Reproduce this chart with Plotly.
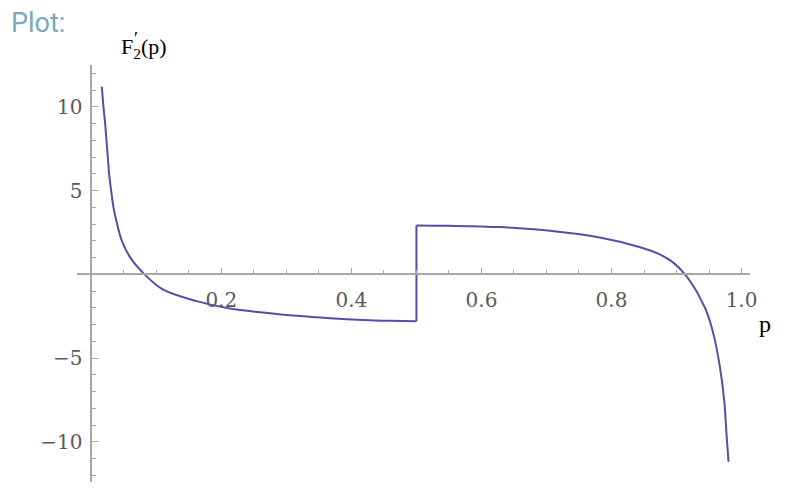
import plotly.graph_objects as go

# ---- data ----
left_p = [0.0162, 0.0187, 0.0213, 0.0233, 0.0254, 0.0274, 0.0305, 0.0341, 0.0397, 0.047,
          0.060, 0.082, 0.11, 0.162, 0.213, 0.264, 0.316, 0.367, 0.418, 0.46, 0.50]
left_y = [11.2, 10.0, 9.0, 8.0, 7.0, 6.0, 5.0, 4.0, 3.0, 2.0,
          1.0, 0.0, -0.9, -1.6, -2.04, -2.28, -2.48, -2.62, -2.72, -2.77, -2.8]
jump_p = [0.50, 0.50]
jump_y = [-2.8, 2.92]
right_p = [0.50, 0.55, 0.628, 0.705, 0.782, 0.844, 0.875, 0.895, 0.913, 0.931,
           0.939, 0.946, 0.957, 0.967, 0.9735, 0.977, 0.98]
right_y = [2.92, 2.9, 2.82, 2.6, 2.2, 1.62, 1.18, 0.70, 0.0, -1.03,
           -1.63, -2.2, -3.6, -5.6, -7.6, -9.6, -11.2]

x_tickvals = [0.2, 0.4, 0.6, 0.8, 1.0]
x_ticktext = ["0.2", "0.4", "0.6", "0.8", "1.0"]
y_tickvals = [-10, -5, 5, 10]
y_ticktext = ["\u221210", "\u22125", "5", "10"]
x_minor = [0.05, 0.1, 0.15, 0.25, 0.3, 0.35, 0.45, 0.5, 0.55, 0.65, 0.7, 0.75, 0.85, 0.9, 0.95]
y_minor = [-12, -11, -9, -8, -7, -6, -4, -3, -2, -1, 1, 2, 3, 4, 6, 7, 8, 9, 11, 12]

XR = [-0.022, 1.013]
YR = [-12.4, 12.5]

W, H = 795, 500
OFF = 8  # page body margin offset
ML, MR, MT, MB = 77 - OFF, 45 + OFF, 65 - OFF, 18 + OFF
PW, PH = W - ML - MR, H - MT - MB


def px(x):
    return (x - OFF - ML) / PW


def py(y):
    return (H - MB - (y - OFF)) / PH


line = dict(color="#5050a8", width=2)
fig = go.Figure()
fig.add_trace(go.Scatter(x=left_p, y=left_y, mode="lines",
                         line=dict(shape="spline", smoothing=1, **line), hoverinfo="skip"))
fig.add_trace(go.Scatter(x=jump_p, y=jump_y, mode="lines", line=line, hoverinfo="skip"))
fig.add_trace(go.Scatter(x=right_p, y=right_y, mode="lines",
                         line=dict(shape="spline", smoothing=1, **line), hoverinfo="skip"))

axcol = "#a6a6a6"
tickfont = dict(family="DejaVu Serif", size=20, color="#5a5a5a")

fig.update_layout(
    width=W, height=H,
    margin=dict(l=ML, r=MR, t=MT, b=MB, autoexpand=False),
    paper_bgcolor="white", plot_bgcolor="white",
    showlegend=False,
    xaxis=dict(range=XR, showgrid=False, zeroline=False, automargin=False,
               showline=True, linecolor=axcol, linewidth=1.5,
               anchor="free", position=(0 - YR[0]) / (YR[1] - YR[0]),
               tickmode="array", tickvals=x_tickvals, ticktext=x_ticktext,
               ticks="inside", ticklen=6, tickwidth=1, tickcolor=axcol,
               tickfont=tickfont, ticklabelstandoff=8,
               minor=dict(tickmode="array", tickvals=x_minor, ticks="inside",
                          ticklen=3.5, tickcolor=axcol, tickwidth=1)),
    yaxis=dict(range=YR, showgrid=False, zeroline=False, automargin=False,
               showline=True, linecolor=axcol, linewidth=1.5,
               anchor="free", position=(0 - XR[0]) / (XR[1] - XR[0]),
               tickmode="array", tickvals=y_tickvals, ticktext=y_ticktext,
               ticks="inside", ticklen=6, tickwidth=1, tickcolor=axcol,
               tickfont=tickfont, ticklabelstandoff=4,
               minor=dict(tickmode="array", tickvals=y_minor, ticks="inside",
                          ticklen=3.5, tickcolor=axcol, tickwidth=1)),
)

fig.add_annotation(text="Plot:", xref="paper", yref="paper", x=px(9), y=py(23),
                   xanchor="left", yanchor="middle", showarrow=False,
                   font=dict(family="Roboto", size=27, color="#7aa8bf"))
fig.add_annotation(text="F<sub>2</sub>(p)", xref="paper", yref="paper", x=px(119), y=py(48),
                   xanchor="left", yanchor="middle", showarrow=False,
                   font=dict(family="Liberation Serif", size=22, color="black"))
fig.add_annotation(text="\u2032", xref="paper", yref="paper", x=px(132), y=py(39),
                   xanchor="left", yanchor="middle", showarrow=False,
                   font=dict(family="Liberation Serif", size=18, color="black"))
fig.add_annotation(text="p", xref="paper", yref="paper", x=px(765), y=py(324),
                   xanchor="center", yanchor="middle", showarrow=False,
                   font=dict(family="Liberation Serif", size=24, color="black"))

fig.write_html("out.html")
